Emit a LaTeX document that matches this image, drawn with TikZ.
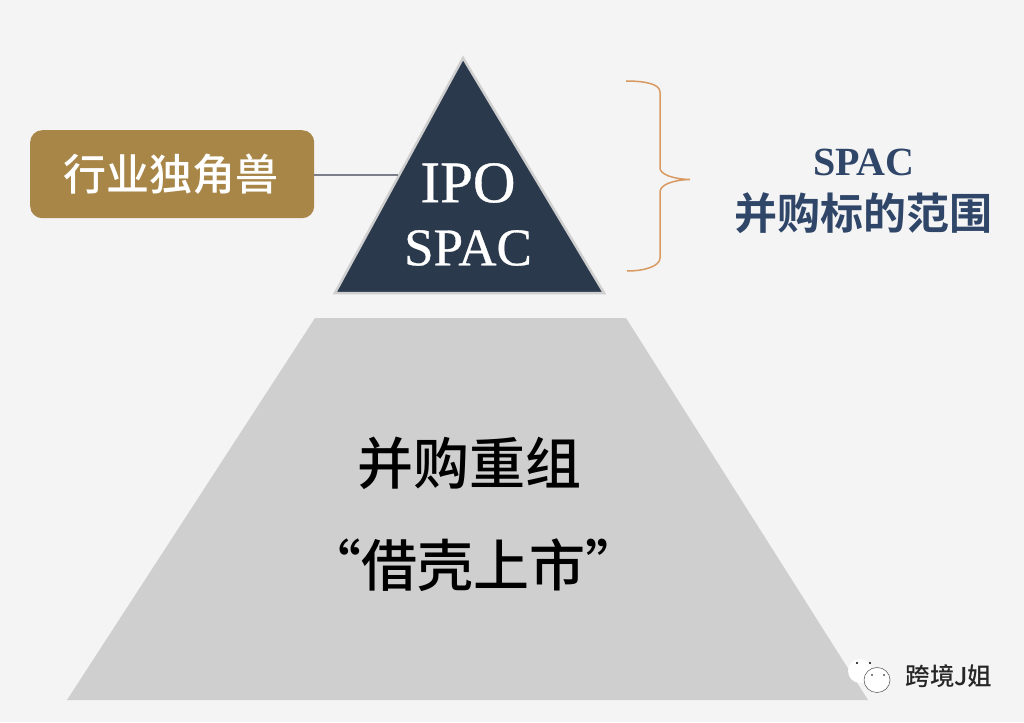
\documentclass[tikz,border=0pt]{standalone}
\usepackage{fontspec}
\setmainfont{Liberation Serif}
\newfontfamily\cjk{Noto Sans CJK SC Medium}
\newfontfamily\cjkb{Noto Sans CJK SC Bold}
\newfontfamily\serifb[FakeBold=0.6]{Liberation Serif}
\definecolor{bgc}{HTML}{F4F4F5}
\definecolor{navy}{HTML}{2A394C}
\definecolor{goldc}{HTML}{A88648}
\definecolor{greyc}{HTML}{D0CFD0}
\definecolor{bluet}{HTML}{2F4668}
\definecolor{bracec}{HTML}{D99A62}
\definecolor{linec}{HTML}{7C7F89}
\tikzset{
  lab/.style={inner sep=0pt,align=center},
  fs/.style={font=\fontsize{#1}{#1}\selectfont},
}
\begin{document}
\begin{tikzpicture}[x=1pt,y=-1pt]
\useasboundingbox (0,0) rectangle (1024,722);
\fill[bgc] (0,0) rectangle (1024,722);
% lower pyramid
\fill[greyc] (315,318) -- (626,318) -- (868,700) -- (67,700) -- cycle;
% top triangle
\draw[fill=navy,draw=greyc,line width=2.5pt,line join=miter] (463,58) -- (604,293) -- (335,293) -- cycle;
\coordinate (triL) at (398,175);
\node[draw=none,fill=goldc,rounded corners=12pt,minimum width=284pt,minimum height=88pt,inner sep=0pt,anchor=north west] (box) at (30,130) {};
\node[lab,text=white,fs=43] (boxt) at (171,174) {\cjk 行业独角兽};
\draw[linec,line width=1.6pt] (box.east |- 0,175) -- (triL);
\node[lab,text=white,fs=59] (ipo) at (468,183) {\serifb IPO};
\node[lab,text=white,fs=53] (spac) at (468,248) {\serifb SPAC};
% brace
\draw[bracec,line width=1.5pt] (626,81) .. controls (645,81) and (660,84) .. (660,92) -- (660,168)
  .. controls (660,174) and (672,179) .. (690,179.5)
  .. controls (672,180) and (660,185) .. (660,192) -- (660,258)
  .. controls (660,266) and (645,271) .. (627,271);
\node[lab,text=bluet,fs=40] (r1) at (864,162) {\textbf{SPAC}};
\node[lab,text=bluet,fs=43] (r2) at (863.5,213) {\cjkb 并购标的范围};
\node[lab,text=black,fs=56] (m1) at (469,463) {\cjk 并购重组};
\node[lab,text=black,fs=56] (m2) at (473,565) {\cjk “借壳上市”};
% watermark
\fill[white] (860,671) ellipse (12 and 12);
\draw[black!70,line width=.5pt,fill=white] (877,680) ellipse (13 and 12.5);
\fill[black] (857,663) circle (1.1) (870,663) circle (1.1) (872,675) circle (.9) (884,675) circle (.9);
\node[lab,text=black!85,fs=24.5] (wm) at (949,676) {\cjk 跨境J姐};
\end{tikzpicture}
\end{document}
